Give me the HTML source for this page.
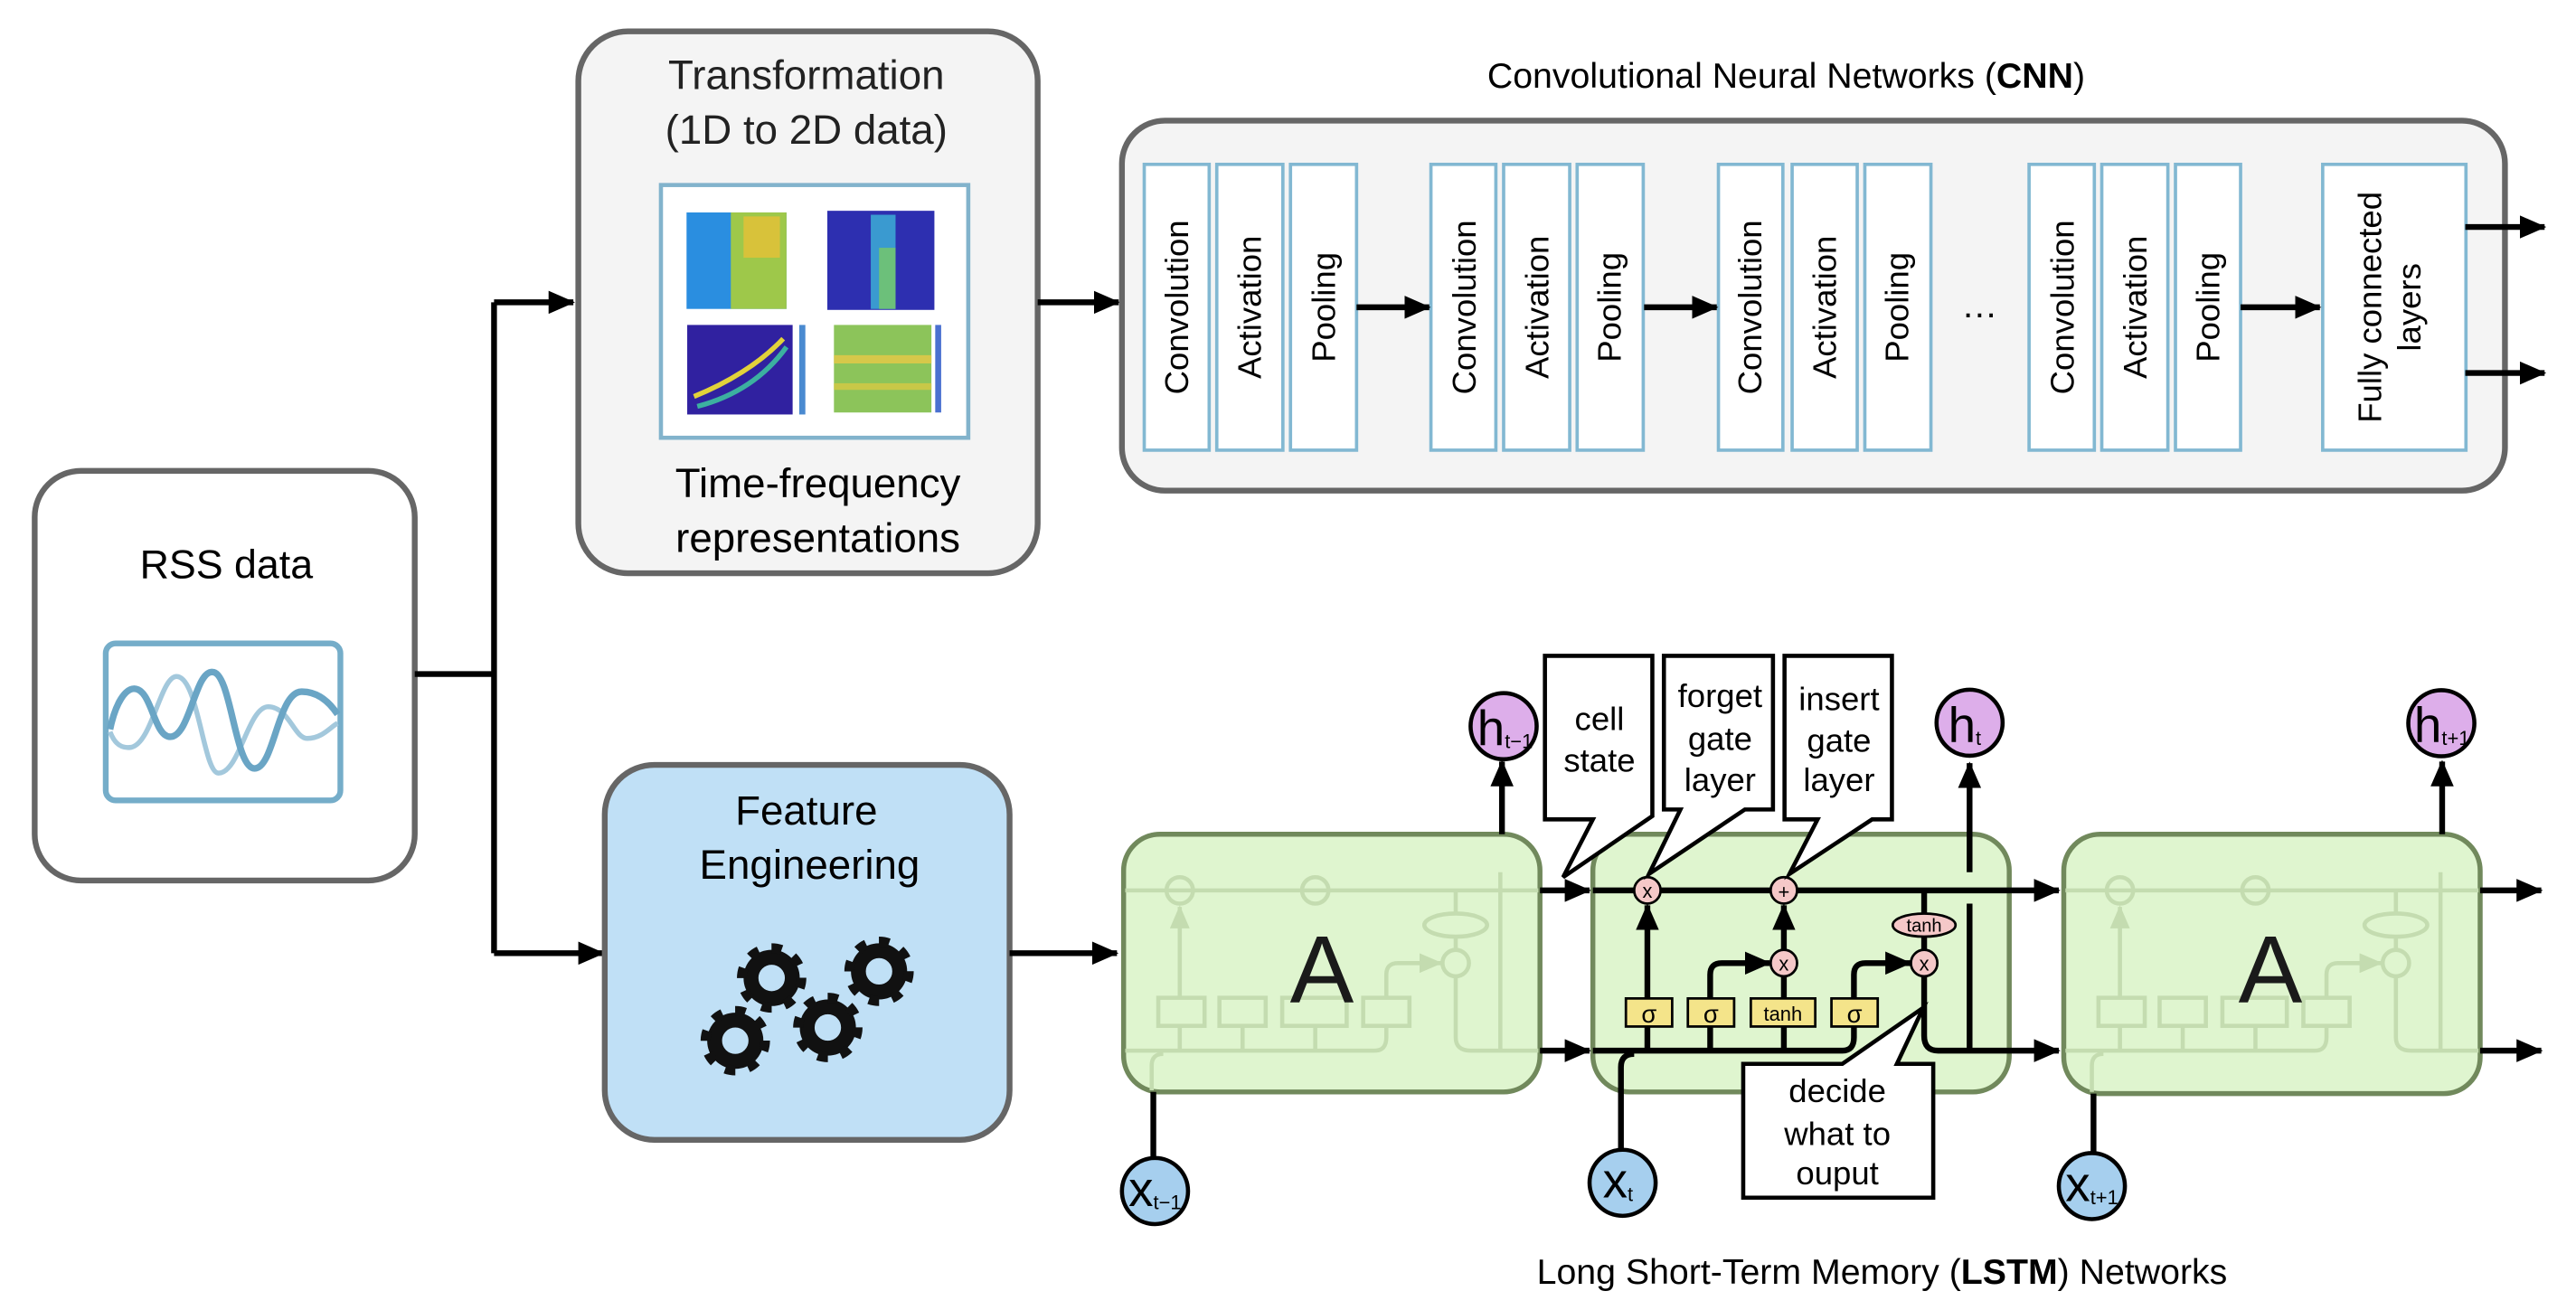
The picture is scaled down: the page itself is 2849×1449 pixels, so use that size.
<!DOCTYPE html>
<html><head><meta charset="utf-8"><style>
html,body{margin:0;padding:0;background:#fff}
svg{display:block}
text{font-family:"Liberation Sans",Arial,sans-serif}
</style></head><body>
<svg width="2849" height="1449" viewBox="0 0 1559 793" preserveAspectRatio="none" xmlns="http://www.w3.org/2000/svg">
<defs>
<marker id="ar" markerWidth="16" markerHeight="14" refX="15" refY="7" orient="auto" markerUnits="userSpaceOnUse"><path d="M0,0 L16,7 L0,14 z" fill="#000"/></marker>
<marker id="arf" markerWidth="14" markerHeight="12" refX="13" refY="6" orient="auto" markerUnits="userSpaceOnUse"><path d="M0,0 L14,6 L0,12 z" fill="#c4dcb0"/></marker>
</defs>

<!-- RSS box -->
<rect x="21" y="285" width="230" height="248" rx="28" fill="#fff" stroke="#666" stroke-width="3.5"/>
<text x="137" y="350" font-size="24.5" text-anchor="middle">RSS data</text>
<rect x="64" y="389.5" width="142" height="95" rx="6" fill="#fff" stroke="#75adc9" stroke-width="3.5"/>
<path d="M66.6,443 C70,452 75,453 79.3,452.4 C92,450 97,410 106.7,409.5 C120,409 123,468 132.2,468 C145,468 150,428 162.3,427.8 C175,428 178,447 186,447 C195,447 200,440 204.3,437.8" fill="none" stroke="#a3c8dc" stroke-width="3"/>
<path d="M66.6,441.5 C70,425 76,417 81.2,416.9 C92,417 93,446 103,446 C115,446 118,406 128.6,406.8 C140,407 142,465 154.1,465.2 C166,465 168,419 182.4,418.7 C193,418.5 200,426 204.3,432.4" fill="none" stroke="#6aa5c5" stroke-width="4"/>

<!-- branch lines -->
<path d="M251,408 L299,408 M299,183 L299,577" stroke="#000" stroke-width="3.5" fill="none"/>
<path d="M299,183 L347,183" stroke="#000" stroke-width="3.5" marker-end="url(#ar)"/>
<path d="M299,577 L365,577" stroke="#000" stroke-width="3.5" marker-end="url(#ar)"/>

<!-- Transformation box -->
<rect x="350" y="19" width="278" height="328" rx="30" fill="#f4f4f4" stroke="#666" stroke-width="3.5"/>
<text x="488" y="54" font-size="25" text-anchor="middle" fill="#222">Transformation</text>
<text x="488" y="87" font-size="25" text-anchor="middle" fill="#222">(1D to 2D data)</text>
<text x="495" y="301" font-size="25" text-anchor="middle">Time-frequency</text>
<text x="495" y="334" font-size="25" text-anchor="middle">representations</text>
<rect x="400" y="112" width="186" height="153" fill="#fff" stroke="#82b3cc" stroke-width="2.5"/>
<rect x="415.5" y="128.6" width="60.5" height="58.4" fill="#2a8ee0"/>
<rect x="442.3" y="128.6" width="33.7" height="58.4" fill="#9ec84a"/>
<rect x="450" y="131" width="22" height="25" fill="#d8c23a"/>
<rect x="500.7" y="127.6" width="64.8" height="60" fill="#2d2fb0"/>
<rect x="527" y="130" width="15" height="57" fill="#3a9ad0"/>
<rect x="532" y="150" width="10" height="37" fill="#6cc07a"/>
<rect x="415.9" y="196.7" width="63.8" height="54.2" fill="#3021a0"/>
<path d="M420,240 C440,232 460,220 474,205" stroke="#e2d23a" stroke-width="3" fill="none"/>
<path d="M422,246 C445,240 463,228 476,210" stroke="#3cb0a0" stroke-width="3" fill="none"/>
<rect x="483.7" y="196.7" width="3.7" height="54.2" fill="#4a8ad0"/>
<rect x="504.7" y="196.7" width="59" height="53" fill="#8cc45a"/>
<rect x="504.7" y="215" width="59" height="5" fill="#d6c84a"/>
<rect x="504.7" y="232" width="59" height="4" fill="#c8c848"/>
<rect x="566" y="196.7" width="3.6" height="53" fill="#4a70d0"/>

<path d="M628,183 L677,183" stroke="#000" stroke-width="3.5" marker-end="url(#ar)"/>

<!-- CNN -->
<text x="1081" y="53" font-size="21.5" text-anchor="middle">Convolutional Neural Networks (<tspan font-weight="bold">CNN</tspan>)</text>
<rect x="679" y="73" width="837" height="224" rx="26" fill="#f4f4f4" stroke="#666" stroke-width="3.5"/>
<g fill="#fff" stroke="#82b8d2" stroke-width="2">
<rect x="692.5" y="99.5" width="39.3" height="173"/><rect x="736.4" y="99.5" width="40" height="173"/><rect x="781" y="99.5" width="40" height="173"/>
<rect x="866" y="99.5" width="39.3" height="173"/><rect x="910" y="99.5" width="40" height="173"/><rect x="954.5" y="99.5" width="40" height="173"/>
<rect x="1040" y="99.5" width="39" height="173"/><rect x="1084.6" y="99.5" width="39.4" height="173"/><rect x="1128.6" y="99.5" width="40" height="173"/>
<rect x="1228" y="99.5" width="39.5" height="173"/><rect x="1272" y="99.5" width="40" height="173"/><rect x="1316.6" y="99.5" width="39.4" height="173"/>
<rect x="1405.7" y="99.5" width="86.7" height="173"/>
</g>
<g font-size="20" text-anchor="middle">
<text transform="translate(719,186) rotate(-90)">Convolution</text>
<text transform="translate(763,186) rotate(-90)">Activation</text>
<text transform="translate(808,186) rotate(-90)">Pooling</text>
<text transform="translate(893,186) rotate(-90)">Convolution</text>
<text transform="translate(937,186) rotate(-90)">Activation</text>
<text transform="translate(981,186) rotate(-90)">Pooling</text>
<text transform="translate(1066,186) rotate(-90)">Convolution</text>
<text transform="translate(1111,186) rotate(-90)">Activation</text>
<text transform="translate(1155,186) rotate(-90)">Pooling</text>
<text transform="translate(1255,186) rotate(-90)">Convolution</text>
<text transform="translate(1299,186) rotate(-90)">Activation</text>
<text transform="translate(1343,186) rotate(-90)">Pooling</text>
<text transform="translate(1441,186) rotate(-90)">Fully connected</text>
<text transform="translate(1465,186) rotate(-90)">layers</text>
</g>
<text x="1198" y="192" font-size="22" text-anchor="middle">…</text>
<g stroke="#000" stroke-width="3.5">
<path d="M821,186 L865,186" marker-end="url(#ar)"/>
<path d="M995,186 L1039,186" marker-end="url(#ar)"/>
<path d="M1356,186 L1404,186" marker-end="url(#ar)"/>
<path d="M1492,137.4 L1540,137.4" marker-end="url(#ar)"/>
<path d="M1492,225.8 L1540,225.8" marker-end="url(#ar)"/>
</g>

<!-- Feature engineering -->
<rect x="366" y="463" width="245" height="227" rx="30" fill="#c0e0f6" stroke="#666" stroke-width="3.5"/>
<text x="488" y="499" font-size="25" text-anchor="middle">Feature</text>
<text x="490" y="532" font-size="25" text-anchor="middle">Engineering</text>
<g fill="none" stroke="#111">
<g transform="translate(467,592)"><circle r="12.5" stroke-width="9"/><circle r="18" stroke-width="6" stroke-dasharray="6.2 7.9"/></g>
<g transform="translate(532,588)"><circle r="12.5" stroke-width="9"/><circle r="18" stroke-width="6" stroke-dasharray="6.2 7.9"/></g>
<g transform="translate(445,630)"><circle r="12.5" stroke-width="9"/><circle r="18" stroke-width="6" stroke-dasharray="6.2 7.9"/></g>
<g transform="translate(501,622)"><circle r="12.5" stroke-width="9"/><circle r="18" stroke-width="6" stroke-dasharray="6.2 7.9"/></g>
</g>
<path d="M611,577 L676,577" stroke="#000" stroke-width="3.5" marker-end="url(#ar)"/>

<!-- LSTM boxes -->
<rect x="680" y="505" width="252" height="156" rx="22" fill="#dff5cf" stroke="#71895c" stroke-width="3"/>
<rect x="964" y="505" width="252" height="156" rx="22" fill="#dff5cf" stroke="#71895c" stroke-width="3"/>
<rect x="1249" y="505" width="252" height="157" rx="22" fill="#dff5cf" stroke="#71895c" stroke-width="3"/>

<!-- faded internals A1 -->
<g fill="none" stroke="#c4dcb0" stroke-width="2.5">
<path d="M681,539 L931,539"/>
<circle cx="714" cy="539" r="8"/><circle cx="796" cy="539" r="8"/>
<ellipse cx="881" cy="560" rx="19" ry="7"/><circle cx="881" cy="583" r="8"/>
<rect x="701" y="604" width="28" height="17"/><rect x="738" y="604" width="28" height="17"/><rect x="776" y="604" width="39" height="17"/><rect x="825" y="604" width="28" height="17"/>
<path d="M714,604 L714,549" marker-end="url(#arf)"/>
<path d="M839,604 L839,590 Q839,583 846,583 L872,583" marker-end="url(#arf)"/>
<path d="M881,539 L881,552 M881,567 L881,575 M881,591 L881,628 Q881,636 890,636 L931,636 M908,528 L908,636"/>
<path d="M681,636 L832,636 Q839,636 839,628 L839,621 M714,621 L714,636 M752,621 L752,636 M796,621 L796,636"/>
<path d="M697,660 L697,645 Q697,638 704,638"/>
</g>
<!-- faded internals A3 -->
<g fill="none" stroke="#c4dcb0" stroke-width="2.5">
<path d="M1250,539 L1500,539"/>
<circle cx="1283" cy="539" r="8"/><circle cx="1365" cy="539" r="8"/>
<ellipse cx="1450" cy="560" rx="19" ry="7"/><circle cx="1450" cy="583" r="8"/>
<rect x="1270" y="604" width="28" height="17"/><rect x="1307" y="604" width="28" height="17"/><rect x="1345" y="604" width="39" height="17"/><rect x="1394" y="604" width="28" height="17"/>
<path d="M1283,604 L1283,549" marker-end="url(#arf)"/>
<path d="M1408,604 L1408,590 Q1408,583 1415,583 L1441,583" marker-end="url(#arf)"/>
<path d="M1450,539 L1450,552 M1450,567 L1450,575 M1450,591 L1450,628 Q1450,636 1459,636 L1500,636 M1477,528 L1477,636"/>
<path d="M1250,636 L1401,636 Q1408,636 1408,628 L1408,621 M1283,621 L1283,636 M1321,621 L1321,636 M1365,621 L1365,636"/>
<path d="M1266,661 L1266,645 Q1266,638 1273,638"/>
</g>
<text x="800" y="607" font-size="58" text-anchor="middle" fill="#1a1a1a">A</text>
<text x="1374" y="607" font-size="58" text-anchor="middle" fill="#1a1a1a">A</text>

<g stroke="#000" stroke-width="3.5" fill="none">
<path d="M932,539 L962,539" marker-end="url(#ar)"/>
<path d="M932,636 L962,636" marker-end="url(#ar)"/>
<path d="M1501,539 L1538,539" marker-end="url(#ar)"/>
<path d="M1501,636 L1538,636" marker-end="url(#ar)"/>
<path d="M909,505 L909,461" marker-end="url(#ar)"/>
<path d="M1478,505 L1478,461" marker-end="url(#ar)"/>
<path d="M698,661 L698,700"/>
<path d="M1267,662 L1267,697"/>
</g>

<!-- middle cell detailed -->
<g stroke="#000" stroke-width="3.5" fill="none">
<path d="M964,539 L1246,539" marker-end="url(#ar)"/>
<path d="M1192,528 L1192,462" marker-end="url(#ar)"/>
<path d="M1192,547 L1192,636"/>
<path d="M1164.5,539 L1164.5,553 M1164.5,567 L1164.5,575"/>
<path d="M1164.5,591 L1164.5,627 Q1164.5,636 1173,636 L1246,636" marker-end="url(#ar)"/>
<path d="M964,636 L1115,636 Q1122,636 1122,628 L1122,621.5"/>
<path d="M981,696 L981,646 Q981,638 989,638"/>
<path d="M997,621.5 L997,636 M1035,621.5 L1035,636 M1079.6,621.5 L1079.6,636"/>
<path d="M997,604 L997,548" marker-end="url(#ar)"/>
<path d="M1079.6,604 L1079.6,591"/>
<path d="M1079.6,575 L1079.6,548" marker-end="url(#ar)"/>
<path d="M1035,604 L1035,590 Q1035,583 1042,583 L1071,583" marker-end="url(#ar)"/>
<path d="M1122,604 L1122,590 Q1122,583 1129,583 L1156,583" marker-end="url(#ar)"/>
</g>
<g fill="#f5c8c8" stroke="#000" stroke-width="1.5">
<circle cx="997" cy="539" r="8"/><circle cx="1079.6" cy="539" r="8"/>
<circle cx="1079.6" cy="583" r="8"/><circle cx="1164.5" cy="583" r="8"/>
<ellipse cx="1164.5" cy="560" rx="19" ry="7"/>
</g>
<g font-size="12" text-anchor="middle">
<text x="997" y="543.5">x</text><text x="1079.6" y="544">+</text>
<text x="1079.6" y="587.5">x</text><text x="1164.5" y="587.5">x</text>
<text x="1164.5" y="564" font-size="11">tanh</text>
</g>
<g fill="#f4e48a" stroke="#000" stroke-width="1.5">
<rect x="984" y="604.4" width="28" height="17"/><rect x="1021.5" y="604.4" width="28" height="17"/>
<rect x="1059.6" y="604.4" width="39" height="17"/><rect x="1108.4" y="604.4" width="28" height="17"/>
</g>
<g font-size="15" text-anchor="middle">
<text x="998" y="619">σ</text><text x="1035.5" y="619">σ</text><text x="1122.4" y="619">σ</text>
<text x="1079" y="618" font-size="12">tanh</text>
</g>

<!-- callouts -->
<g fill="#fff" stroke="#000" stroke-width="2.5" stroke-linejoin="miter">
<polygon points="935,397 1000,397 1000,494 946,531 964,496 935,496"/>
<polygon points="1007,397 1073,397 1073,490 1056,490 998,529 1017,490 1007,490"/>
<polygon points="1080,397 1145,397 1145,496 1133,496 1083,529 1100,496 1080,496"/>
<polygon points="1055,644 1115,644 1164,610 1148,644 1170,644 1170,725 1055,725"/>
</g>
<g font-size="20" text-anchor="middle">
<text x="968" y="442">cell</text><text x="968" y="467">state</text>
<text x="1041" y="428">forget</text><text x="1041" y="454">gate</text><text x="1041" y="479">layer</text>
<text x="1113" y="430">insert</text><text x="1113" y="455">gate</text><text x="1113" y="479">layer</text>
<text x="1112" y="667">decide</text><text x="1112" y="693">what to</text><text x="1112" y="717">ouput</text>
</g>

<!-- h and x circles -->
<g fill="#ddaeea" stroke="#000" stroke-width="2.5">
<circle cx="910" cy="439.6" r="20"/><circle cx="1192" cy="437.5" r="20"/><circle cx="1477.5" cy="437.8" r="20"/>
</g>
<g fill="#a6cfee" stroke="#000" stroke-width="2.5">
<circle cx="699" cy="721" r="20"/><circle cx="982" cy="716" r="20"/><circle cx="1266" cy="718" r="20"/>
</g>
<g font-size="30">
<text x="894" y="451">h<tspan font-size="12" dy="2">t−1</tspan></text>
<text x="1179" y="449">h<tspan font-size="12" dy="2">t</tspan></text>
<text x="1461" y="449">h<tspan font-size="12" dy="2">t+1</tspan></text>
<text x="683" y="730">x<tspan font-size="12" dy="2">t−1</tspan></text>
<text x="970" y="725">x<tspan font-size="12" dy="2">t</tspan></text>
<text x="1250" y="727">x<tspan font-size="12" dy="2">t+1</tspan></text>
</g>

<text x="1139" y="777" font-size="21.5" text-anchor="middle">Long Short-Term Memory (<tspan font-weight="bold">LSTM</tspan>) Networks</text>
</svg>
</body></html>
